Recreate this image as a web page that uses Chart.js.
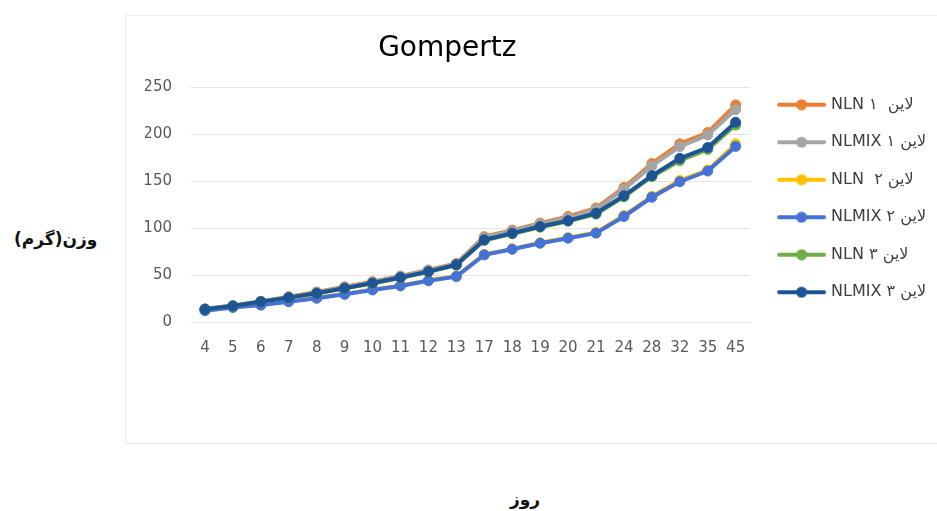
<!DOCTYPE html>
<html>
<head>
<meta charset="utf-8">
<script src="https://cdn.jsdelivr.net/npm/chart.js@4.4.0/dist/chart.umd.min.js"></script>
<style>
  body { margin: 0; background: #fff; }
  #wrap { position: relative; width: 937px; height: 511px; overflow: hidden; }
  #box { position: absolute; left: 125px; top: 15px; width: 830px; height: 427px; border: 1px solid #ececec; }
  #c { position: absolute; left: 125px; top: 15px; }
  .axt { position: absolute; font-family: "DejaVu Sans"; font-weight: bold; font-size: 17px; color: #111; direction: rtl; white-space: nowrap; }
</style>
</head>
<body>
<div id="wrap">
  <div id="box"></div>
  <canvas id="c" width="812" height="367"></canvas>
  <div class="axt" style="left:14px; top:229px;">وزن(گرم)</div>
  <div class="axt" style="left:510px; top:489px;">روز</div>
</div>
<script>
// days on the x axis
const days = ['4', '5', '6', '7', '8', '9', '10', '11', '12', '13', '17', '18', '19', '20', '21', '24', '28', '32', '35', '45'];

// weights
const nln1   = [14, 17.5, 22, 27, 32, 37.5, 43, 49, 55.5, 62.5, 91, 98, 105.5, 112.5, 121.5, 143.5, 169, 190, 202, 231.5];
const nlmix1 = [14, 17.5, 22, 26.5, 31.5, 37, 42.5, 48.5, 55, 62, 90, 97, 104.5, 111, 120, 141.8, 166.5, 187, 199.5, 226.5];
const nln2   = [12.5, 16, 18.5, 22, 25.8, 30, 34.8, 39, 44.5, 49, 72, 78, 84.5, 90, 95.5, 113.5, 134, 151, 162, 190];
const nlmix2 = [12, 15.5, 18, 21.7, 25.3, 29.5, 34.2, 38.5, 44, 48.4, 71.6, 77.6, 84, 89.4, 94.8, 112.5, 133, 149.6, 161, 187.3];
const nln3   = [13.5, 17, 21.5, 26, 30.5, 36, 41, 47, 53.5, 60.5, 87, 94, 101, 107.5, 115, 133.5, 155, 172, 184, 210];
const nlmix3 = [13.5, 17, 21.7, 26, 30.6, 36, 41.5, 47.5, 53.7, 61, 87.6, 94.7, 101.8, 108, 116, 134.6, 156, 174.5, 186, 213];

const names = ['NLN ۱  لاین', 'NLMIX ۱ لاین', 'NLN  ۲ لاین', 'NLMIX ۲ لاین', 'NLN ۳ لاین', 'NLMIX ۳ لاین'];
const values = [nln1, nlmix1, nln2, nlmix2, nln3, nlmix3];
const colors = ['#ED7D31', '#A5A5A5', '#FFC000', '#4472D6', '#70AD47', '#1D5594'];

// legend marker: line with a dot, a bit right of the canvas centre
function makeIcon(color) {
  const c = document.createElement('canvas');
  c.width = 60; c.height = 12;
  const g = c.getContext('2d');
  g.strokeStyle = color; g.lineWidth = 4; g.lineCap = 'round';
  g.beginPath(); g.moveTo(12, 6); g.lineTo(57, 6); g.stroke();
  g.fillStyle = color;
  g.beginPath(); g.arc(34.5, 6, 5.5, 0, Math.PI * 2); g.fill();
  return c;
}
const icons = colors.map(makeIcon);

const font = { family: 'DejaVu Sans', size: 15 };

// keep the title centred over the part left of the legend
const titleShift = {
  id: 'titleShift',
  afterLayout(chart) {
    if (chart.titleBlock && chart.legend) chart.titleBlock.right = chart.legend.left;
  }
};

new Chart(document.getElementById('c'), {
  type: 'line',
  data: {
    labels: days,
    datasets: names.map((n, i) => ({
      label: n,
      data: values[i],
      borderColor: colors[i],
      backgroundColor: colors[i],
      borderWidth: 4,
      pointRadius: 5,
      pointBorderWidth: 1,
      pointHoverRadius: 5,
      order: names.length - i  // last series on top, like Excel
    }))
  },
  plugins: [titleShift],
  options: {
    responsive: false,
    animation: false,
    layout: { padding: { left: 20, right: 1, top: 0, bottom: 0 } },
    plugins: {
      title: {
        display: true,
        text: 'Gompertz',
        color: '#000',
        font: { family: 'DejaVu Sans', size: 28, weight: 'normal' },
        padding: { top: 17, bottom: 22 }
      },
      legend: {
        position: 'right',
        labels: {
          usePointStyle: true,
          pointStyleWidth: 52,
          padding: 21.5,
          color: '#404040',
          font: { family: 'DejaVu Sans', size: 16 },
          generateLabels(chart) {
            const items = Chart.defaults.plugins.legend.labels.generateLabels(chart);
            items.forEach(it => { it.pointStyle = icons[it.datasetIndex]; });
            return items.sort((a, b) => a.datasetIndex - b.datasetIndex);
          }
        }
      },
      tooltip: { enabled: false }
    },
    scales: {
      x: {
        offset: true,
        grid: { display: false },
        border: { display: false },
        ticks: { color: '#595959', font: font, padding: 9, maxRotation: 0, autoSkip: false },
        afterFit(s) { s.height = 60; }
      },
      y: {
        min: 0,
        max: 250,
        ticks: { stepSize: 50, color: '#595959', font: font, padding: 19 },
        grid: { color: '#e4e4e4', drawTicks: false },
        border: { display: false },
        afterFit(s) { s.width = 46; }
      }
    }
  }
});
</script>
</body>
</html>
